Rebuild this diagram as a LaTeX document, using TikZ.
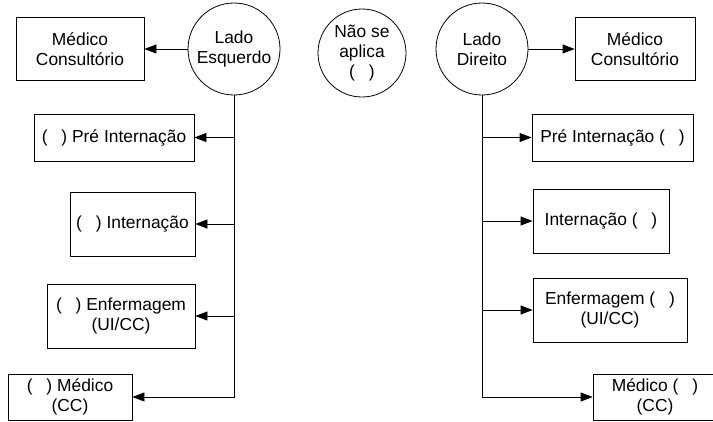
\documentclass[tikz,border=0pt]{standalone}
\usepackage{fontspec}
\setmainfont{Liberation Sans}
\usetikzlibrary{arrows.meta}
\newcommand{\marca}{(\hspace{0.8em})}

\begin{document}
\begin{tikzpicture}[line cap=butt,line join=miter,x=1pt,y=-1pt,
        >={Triangle[length=12pt,width=9pt]},
        every node/.style={font=\fontsize{17.4}{20}\selectfont,align=center,inner sep=0pt},
        caixa/.style={draw,line width=0.8pt,rectangle},
        lado/.style={draw,line width=0.8pt,circle,minimum size=92pt},
        liga/.style={line width=0.8pt}]
        \useasboundingbox (0,0) rectangle (713,421);
        \clip (0,0) rectangle (713,421);
        % circulos
        \node[lado] (esq) at (234,49) {Lado\\Esquerdo};
        \node[lado,minimum size=88pt] (nsa) at (362,53) {N\~ao se\\aplica\\\marca};
        \node[lado] (dir) at (482,49) {Lado\\Direito};
        % lado esquerdo
        \node[caixa,minimum width=128pt,minimum height=63pt] (mcesq) at (80,49) {M\'edico\\Consult\'orio};
        \node[caixa,minimum width=160pt,minimum height=47pt] (preesq) at (114,137.5) {\marca{} Pr\'e Interna\c{c}\~ao};
        \node[caixa,minimum width=125pt,minimum height=64pt] (intesq) at (132.5,224) {\marca{} Interna\c{c}\~ao};
        \node[caixa,minimum width=148pt,minimum height=64pt] (enfesq) at (121,316) {\marca{} Enfermagem\\(UI/CC)};
        \node[caixa,minimum width=124pt,minimum height=46pt] (medesq) at (70,397) {\marca{} M\'edico\\(CC)};
        % lado direito
        \node[caixa,minimum width=120pt,minimum height=63pt] (mcdir) at (635,49) {M\'edico\\Consult\'orio};
        \node[caixa,minimum width=161pt,minimum height=47pt] (predir) at (612.5,137.5) {Pr\'e Interna\c{c}\~ao \marca};
        \node[caixa,minimum width=136pt,minimum height=64pt] (intdir) at (601,221) {Interna\c{c}\~ao \marca};
        \node[caixa,minimum width=154pt,minimum height=64pt] (enfdir) at (610,310) {Enfermagem \marca\\(UI/CC)};
        \node[caixa,minimum width=124pt,minimum height=46pt] (meddir) at (655,397) {M\'edico \marca\\(CC)};
        % ligacoes esquerda
        \draw[liga,->] (esq) -- (mcesq);
        \draw[liga,->] (esq.south) |- (medesq.east);
        \draw[liga,->] (esq.south |- preesq.east) -- (preesq.east);
        \draw[liga,->] (esq.south |- intesq.east) -- (intesq.east);
        \draw[liga,->] (esq.south |- enfesq.east) -- (enfesq.east);
        % ligacoes direita
        \draw[liga,->] (dir) -- (mcdir);
        \draw[liga,->] (dir.south) |- (meddir.west);
        \draw[liga,->] (dir.south |- predir.west) -- (predir.west);
        \draw[liga,->] (dir.south |- intdir.west) -- (intdir.west);
        \draw[liga,->] (dir.south |- enfdir.west) -- (enfdir.west);
    \end{tikzpicture}
\end{document}
